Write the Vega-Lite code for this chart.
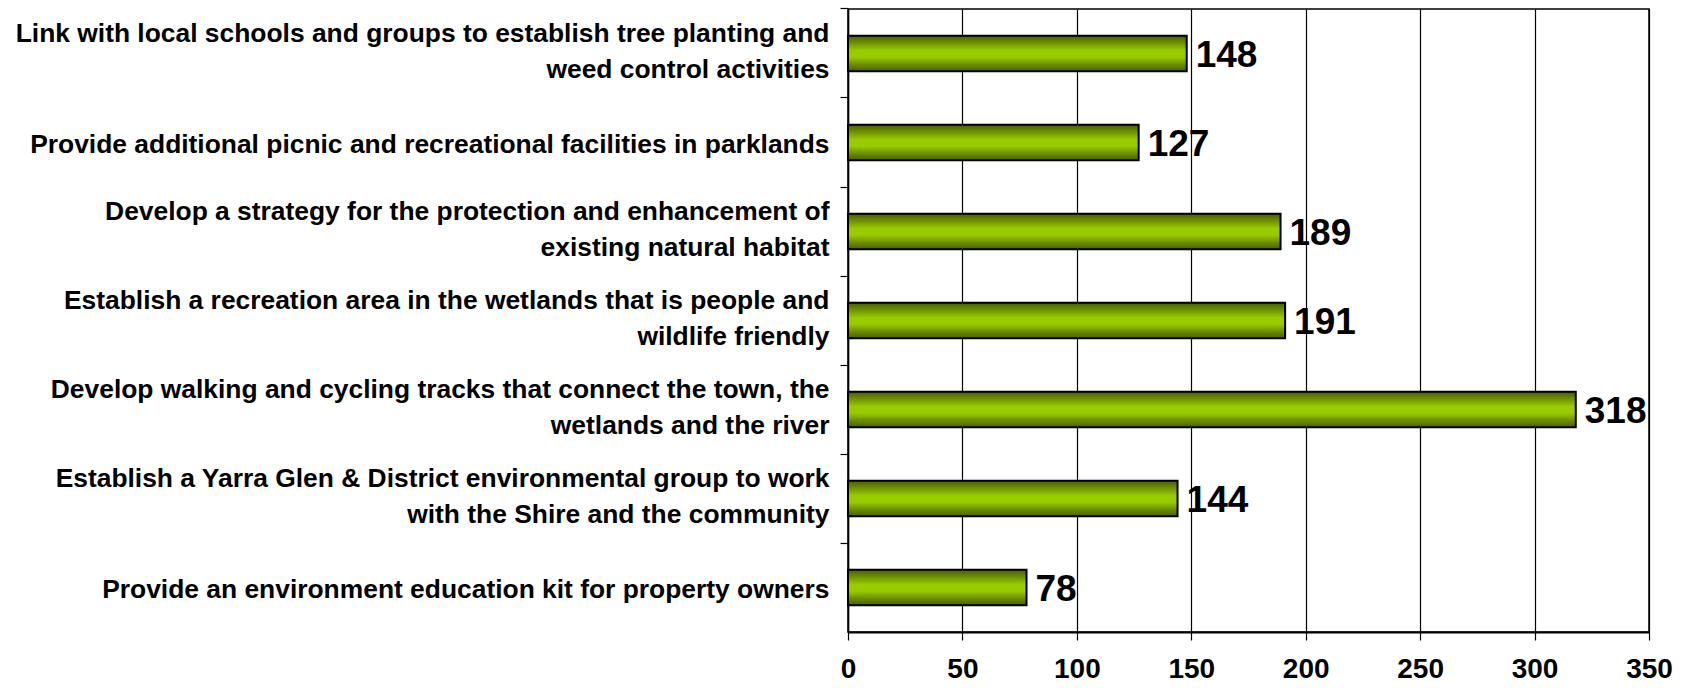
{
  "$schema": "https://vega.github.io/schema/vega-lite/v6.json",
  "width": 801,
  "height": 623,
  "autosize": "none",
  "padding": {"left": 848, "top": 9, "right": 35, "bottom": 56},
  "background": "white",
  "config": {
    "view": {"stroke": "black", "strokeWidth": 1.5},
    "font": "Liberation Sans"
  },
  "data": {
    "values": [
      {"item": "Link with local schools and groups to establish tree planting and|weed control activities", "count": 148},
      {"item": "Provide additional picnic and recreational facilities in parklands", "count": 127},
      {"item": "Develop a strategy for the protection and enhancement of|existing natural habitat", "count": 189},
      {"item": "Establish a recreation area in the wetlands that is people and|wildlife friendly", "count": 191},
      {"item": "Develop walking and cycling tracks that connect the town, the|wetlands and the river", "count": 318},
      {"item": "Establish a Yarra Glen & District environmental group to work|with the Shire and the community", "count": 144},
      {"item": "Provide an environment education kit for property owners", "count": 78}
    ]
  },
  "encoding": {
    "y": {
      "field": "item",
      "type": "nominal",
      "sort": null,
      "scale": {"paddingInner": 0.6, "paddingOuter": 0.3}
    },
    "x": {
      "field": "count",
      "type": "quantitative",
      "scale": {"domain": [0, 350]}
    }
  },
  "layer": [
    {
      "mark": {
        "type": "bar",
        "stroke": "black",
        "strokeWidth": 2,
        "fill": {
          "gradient": "linear",
          "x1": 0, "y1": 0, "x2": 0, "y2": 1,
          "stops": [
            {"offset": 0, "color": "#4a5e00"},
            {"offset": 0.2, "color": "#6e9000"},
            {"offset": 0.42, "color": "#99cc00"},
            {"offset": 0.6, "color": "#99cc00"},
            {"offset": 0.8, "color": "#6e9000"},
            {"offset": 1, "color": "#4a5e00"}
          ]
        }
      },
      "encoding": {
        "y": {
          "field": "item",
          "type": "nominal",
          "sort": null,
          "title": null,
          "axis": {
            "orient": "left",
            "ticks": false,
            "tickSize": 0,
            "domain": false,
            "labelPadding": 19,
            "labelAlign": "right",
            "labelBaseline": "middle",
            "labelOffset": {"condition": {"test": "indexof(datum.value, '|') >= 0", "value": -20}, "value": 2},
            "labelFont": "Liberation Sans",
            "labelFontWeight": "bold",
            "labelFontSize": 26.4,
            "labelColor": "black",
            "labelLineHeight": 36.5,
            "labelLimit": 900,
            "labelExpr": "split(datum.label, '|')"
          }
        },
        "x": {
          "field": "count",
          "type": "quantitative",
          "title": null,
          "axis": {
            "values": [0, 50, 100, 150, 200, 250, 300, 350],
            "grid": true,
            "gridColor": "black",
            "gridOpacity": 1,
            "gridWidth": 1.2,
            "domainColor": "black",
            "domainWidth": 2,
            "tickColor": "black",
            "tickSize": 8,
            "tickWidth": 1.2,
            "labelPadding": 15,
            "labelFont": "Liberation Sans",
            "labelFontWeight": "bold",
            "labelFontSize": 28,
            "labelColor": "black",
            "labelFlush": false
          }
        }
      }
    },
    {
      "mark": {
        "type": "text",
        "align": "left",
        "baseline": "middle",
        "dx": 9,
        "dy": 2,
        "font": "Liberation Sans",
        "fontWeight": "bold",
        "fontSize": 37,
        "color": "black"
      },
      "encoding": {
        "text": {"field": "count", "type": "quantitative"},
        "y": {
          "field": "item",
          "type": "nominal",
          "sort": null,
          "title": null,
          "axis": {
            "orient": "left",
            "labels": false,
            "domain": true,
            "domainColor": "black",
            "domainWidth": 1.5,
            "ticks": true,
            "tickColor": "black",
            "tickSize": 8,
            "tickWidth": 1.2,
            "bandPosition": -0.75
          }
        }
      }
    }
  ],
  "resolve": {"axis": {"y": "independent"}}
}
